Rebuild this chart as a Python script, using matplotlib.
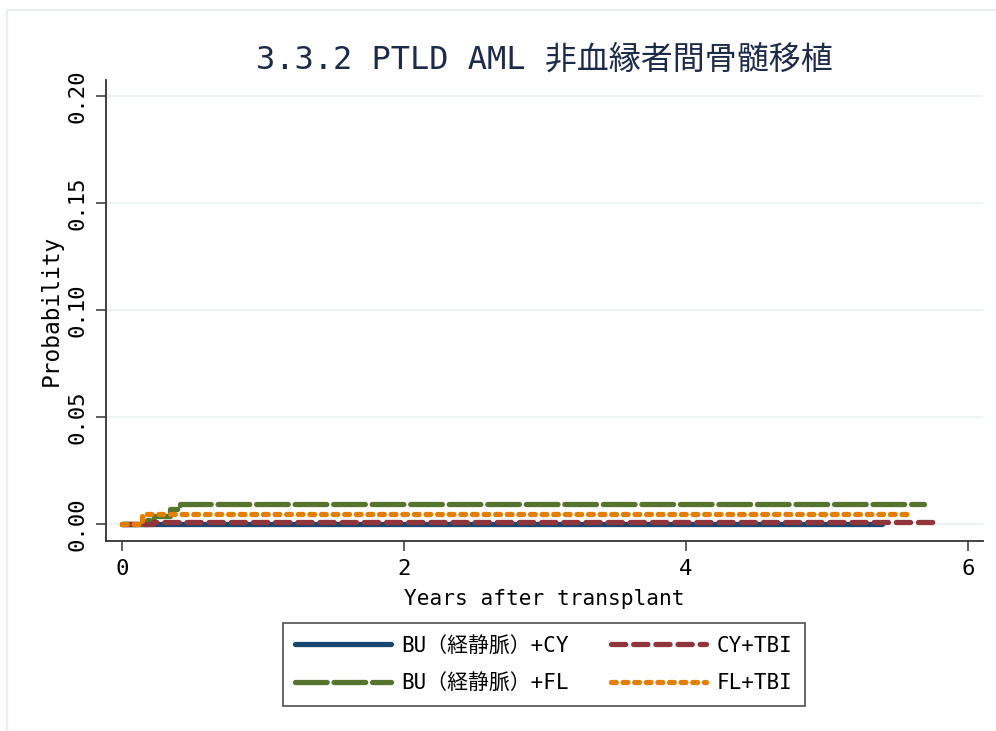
import matplotlib.pyplot as plt
from matplotlib.patches import Rectangle

plt.rcParams['font.family'] = ['DejaVu Sans Mono', 'Noto Sans CJK JP']

# step curves (years, cumulative probability)
t_bucy = [0, 5.39]
p_bucy = [0, 0]
t_bufl = [0, 0.18, 0.23, 0.34, 0.41, 5.69]
p_bufl = [0, 0.002, 0.004, 0.007, 0.0095, 0.0095]
t_cytbi = [0, 0.22, 5.8]
p_cytbi = [0, 0.001, 0.001]
t_fltbi = [0, 0.14, 5.6]
p_fltbi = [0, 0.0045, 0.0045]

labels = ['BU（経静脈）+CY', 'BU（経静脈）+FL', 'CY+TBI', 'FL+TBI']
colors = ['#1a476f', '#55752f', '#90353b', '#e37e00']
xticks = [0, 2, 4, 6]
yticks = [0, 0.05, 0.10, 0.15, 0.20]

fig = plt.figure(figsize=(9.96, 7.31), dpi=100)
ax = fig.add_axes([0.1064, 0.2599, 0.8806, 0.6307])

# light graph-region frame (left and top edges)
fig.patches.append(Rectangle((7 / 996, -0.1), 1.1, 1 - 10 / 731 + 0.1,
                             transform=fig.transFigure, fill=False,
                             edgecolor='#e6eef0', lw=1.5))

for y in yticks:
    ax.axhline(y, color='#eaf2f3', lw=1.2, zorder=0)

lw = 3.8
l1, = ax.plot(t_bucy, p_bucy, drawstyle='steps-post', color=colors[0], lw=lw,
              solid_capstyle='round')
l2, = ax.plot(t_bufl, p_bufl, drawstyle='steps-post', color=colors[1], lw=lw,
              dashes=(6.0, 1.3), dash_capstyle='round')
l3, = ax.plot(t_cytbi, p_cytbi, drawstyle='steps-post', color=colors[2], lw=lw,
              dashes=(2.7, 1.5), dash_capstyle='round')
l4, = ax.plot(t_fltbi, p_fltbi, drawstyle='steps-post', color=colors[3], lw=lw,
              dashes=(0.9, 1.3), dash_capstyle='round')

ax.set_xlim(-0.113, 6.106)
ax.set_ylim(-0.0079, 0.2075)
ax.set_xticks(xticks)
ax.set_yticks(yticks)
ax.set_yticklabels(['%.2f' % v for v in yticks], rotation=90, va='center')
ax.tick_params(axis='both', labelsize=16, length=7, width=1.2, color='#444444')
ax.tick_params(axis='x', pad=6)
ax.tick_params(axis='y', pad=6)

for s in ['top', 'right']:
    ax.spines[s].set_visible(False)
for s in ['left', 'bottom']:
    ax.spines[s].set_color('#333333')
    ax.spines[s].set_linewidth(1.3)

ax.set_xlabel('Years after transplant', fontsize=15.2, labelpad=7)
ax.set_ylabel('Probability', fontsize=16.5, labelpad=4)
ax.set_title('3.3.2 PTLD AML 非血縁者間骨髄移植', fontsize=23, color='#1e2a4a',
             pad=8)

leg = fig.legend([l1, l2, l3, l4], labels, ncol=2, loc='upper center',
                 bbox_to_anchor=(0.546, 1 - 623 / 731), borderaxespad=0,
                 fontsize=15, frameon=True,
                 fancybox=False, edgecolor='#333333', handlelength=4.6,
                 handletextpad=0.5, columnspacing=2.0, borderpad=0.6,
                 labelspacing=0.85)
leg.get_frame().set_linewidth(1.3)

fig.savefig('out.png', dpi=100)
